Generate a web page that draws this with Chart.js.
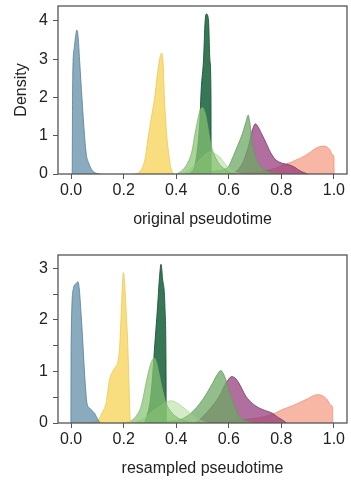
<!DOCTYPE html>
<html>
<head>
<meta charset="utf-8">
<script src="https://cdn.jsdelivr.net/npm/chart.js@4.4.1/dist/chart.umd.min.js"></script>
<style>
  html, body { margin: 0; padding: 0; background: #fff; width: 351px; height: 485px; overflow: hidden; position: relative; }
  .panel { position: absolute; left: 0; width: 351px; height: 240px; }
  #panel-orig { top: -9px; }
  #panel-resampled { top: 240px; }
</style>
</head>
<body>
<div class="panel" id="panel-orig"><canvas id="chart-orig" width="351" height="240"></canvas></div>
<div class="panel" id="panel-resampled"><canvas id="chart-resampled" width="351" height="240"></canvas></div>
<script>
// ── Ticks ──────────────────────────────────────
const X_TICKS           = [0, 0.2, 0.4, 0.6, 0.8, 1.0];
const Y_TICKS_ORIG      = [0, 1, 2, 3, 4];
const Y_TICKS_RESAMPLED = [0, 0.5, 1, 1.5, 2, 2.5, 3];

// ── Series (top of the list is drawn on top) ────
const SERIES = ['blue', 'yellow', 'lightgreen', 'palegreen', 'darkgreen', 'midgreen', 'purple', 'salmon'];
const FILLS = {
  blue:       'rgba(105,148,172,0.78)',
  yellow:     'rgba(247,214,95,0.8)',
  lightgreen: 'rgba(135,195,115,0.72)',
  palegreen:  'rgba(160,210,130,0.45)',
  darkgreen:  'rgba(28,100,62,0.88)',
  midgreen:   'rgba(110,168,100,0.75)',
  purple:     'rgba(145,55,120,0.72)',
  salmon:     'rgba(245,155,130,0.72)',
};
const EDGES = {
  blue:       'rgba(85,125,150,0.8)',
  yellow:     'rgba(235,200,90,0.8)',
  lightgreen: 'rgba(120,175,105,0.7)',
  palegreen:  'rgba(160,205,135,0.6)',
  darkgreen:  'rgba(25,85,55,0.9)',
  midgreen:   'rgba(100,150,95,0.75)',
  purple:     'rgba(115,45,95,0.75)',
  salmon:     'rgba(238,145,120,0.8)',
};

// ── Original pseudotime densities ──────────────
const ORIG_BLUE_X = [0.004, 0.006, 0.012, 0.018, 0.022, 0.027, 0.032, 0.041, 0.051, 0.058, 0.066, 0.075, 0.085, 0.095, 0.11];
const ORIG_BLUE_Y = [0, 2.5, 3.3, 3.65, 3.76, 3.55, 3.0, 2.0, 1.0, 0.5, 0.3, 0.15, 0.06, 0.02, 0];

const ORIG_YELLOW_X = [0.24, 0.26, 0.28, 0.294, 0.306, 0.318, 0.33, 0.34, 0.345, 0.35, 0.355, 0.36, 0.364, 0.372, 0.38, 0.39];
const ORIG_YELLOW_Y = [0, 0.05, 0.35, 1.0, 1.5, 2.0, 2.7, 3.1, 3.16, 2.9, 2.0, 1.4, 1.0, 0.5, 0.15, 0];

const ORIG_DARKGREEN_X = [0.45, 0.47, 0.48, 0.49, 0.495, 0.504, 0.510, 0.515, 0.523, 0.528, 0.532, 0.533];
const ORIG_DARKGREEN_Y = [0, 0.2, 0.6, 1.4, 2.2, 3.0, 4.0, 4.18, 4.0, 3.0, 2.2, 0];

const ORIG_LIGHTGREEN_X = [0.40, 0.42, 0.44, 0.46, 0.47, 0.48, 0.49, 0.50, 0.51, 0.52, 0.526, 0.535, 0.545, 0.56, 0.58, 0.60, 0.62];
const ORIG_LIGHTGREEN_Y = [0, 0.08, 0.25, 0.6, 1.0, 1.35, 1.65, 1.74, 1.6, 1.25, 1.0, 0.7, 0.5, 0.3, 0.15, 0.05, 0];

const ORIG_PALEGREEN_X = [0.42, 0.45, 0.48, 0.51, 0.53, 0.55, 0.565, 0.58, 0.60, 0.62, 0.65];
const ORIG_PALEGREEN_Y = [0, 0.1, 0.3, 0.5, 0.58, 0.52, 0.45, 0.32, 0.15, 0.06, 0];

const ORIG_MIDGREEN_X = [0.44, 0.50, 0.55, 0.58, 0.60, 0.61, 0.627, 0.652, 0.665, 0.674, 0.68, 0.69, 0.70, 0.72, 0.75, 0.80];
const ORIG_MIDGREEN_Y = [0, 0.05, 0.08, 0.12, 0.2, 0.35, 0.63, 1.06, 1.35, 1.54, 1.35, 0.8, 0.5, 0.2, 0.06, 0];

const ORIG_PURPLE_X = [0.60, 0.627, 0.652, 0.671, 0.681, 0.69, 0.701, 0.71, 0.725, 0.743, 0.76, 0.779, 0.80, 0.829, 0.85, 0.867, 0.885, 0.90];
const ORIG_PURPLE_Y = [0, 0.06, 0.28, 0.63, 0.89, 1.15, 1.31, 1.25, 1.05, 0.8, 0.55, 0.37, 0.29, 0.24, 0.18, 0.1, 0.04, 0];

const ORIG_SALMON_X = [0.60, 0.65, 0.70, 0.75, 0.78, 0.817, 0.842, 0.86, 0.88, 0.90, 0.92, 0.94, 0.962, 0.975, 0.985, 0.995, 1.0, 1.001];
const ORIG_SALMON_Y = [0, 0.02, 0.05, 0.1, 0.16, 0.26, 0.32, 0.38, 0.44, 0.52, 0.62, 0.70, 0.73, 0.70, 0.63, 0.5, 0.46, 0];

// ── Resampled pseudotime densities ─────────────
const RES_BLUE_X = [-0.001, 0.0, 0.009, 0.018, 0.026, 0.031, 0.036, 0.044, 0.051, 0.056, 0.06, 0.07, 0.08, 0.089, 0.1, 0.11];
const RES_BLUE_Y = [0, 1.55, 2.62, 2.7, 2.74, 2.6, 2.26, 1.61, 0.97, 0.6, 0.39, 0.29, 0.24, 0.19, 0.08, 0];

const RES_YELLOW_X = [0.03, 0.08, 0.10, 0.108, 0.12, 0.133, 0.146, 0.158, 0.17, 0.177, 0.185, 0.19, 0.199, 0.205, 0.21, 0.215, 0.22, 0.225, 0.23];
const RES_YELLOW_Y = [0, 0.02, 0.05, 0.1, 0.22, 0.39, 0.84, 1.0, 1.1, 1.16, 1.5, 2.06, 2.92, 2.6, 2.1, 1.61, 0.8, 0.06, 0];

const RES_DARKGREEN_X = [0.28, 0.30, 0.31, 0.317, 0.329, 0.336, 0.342, 0.348, 0.357, 0.361, 0.362];
const RES_DARKGREEN_Y = [0, 0.4, 0.9, 1.42, 2.26, 2.8, 3.08, 2.8, 2.26, 1.2, 0];

const RES_LIGHTGREEN_X = [0.20, 0.23, 0.247, 0.266, 0.285, 0.30, 0.31, 0.317, 0.325, 0.335, 0.348, 0.361, 0.38, 0.40, 0.43, 0.46];
const RES_LIGHTGREEN_Y = [0, 0.05, 0.13, 0.32, 0.77, 1.1, 1.23, 1.26, 1.18, 0.95, 0.64, 0.39, 0.22, 0.12, 0.04, 0];

const RES_PALEGREEN_X = [0.24, 0.28, 0.31, 0.34, 0.36, 0.38, 0.40, 0.42, 0.437, 0.455, 0.475, 0.50, 0.52];
const RES_PALEGREEN_Y = [0, 0.1, 0.22, 0.33, 0.4, 0.43, 0.4, 0.33, 0.26, 0.18, 0.1, 0.03, 0];

const RES_MIDGREEN_X = [0.25, 0.35, 0.40, 0.412, 0.456, 0.50, 0.538, 0.555, 0.570, 0.58, 0.589, 0.60, 0.614, 0.64, 0.67, 0.70];
const RES_MIDGREEN_Y = [0, 0.03, 0.05, 0.06, 0.19, 0.45, 0.77, 0.93, 1.02, 0.95, 0.84, 0.65, 0.45, 0.13, 0.04, 0];

const RES_PURPLE_X = [0.47, 0.488, 0.526, 0.564, 0.59, 0.612, 0.625, 0.639, 0.665, 0.69, 0.716, 0.74, 0.766, 0.79, 0.804, 0.82];
const RES_PURPLE_Y = [0, 0.06, 0.26, 0.52, 0.78, 0.90, 0.87, 0.77, 0.52, 0.38, 0.29, 0.24, 0.19, 0.1, 0.06, 0];

const RES_SALMON_X = [0.45, 0.55, 0.65, 0.70, 0.741, 0.78, 0.804, 0.84, 0.867, 0.90, 0.937, 0.96, 0.975, 0.99, 0.995, 0.996];
const RES_SALMON_Y = [0, 0.02, 0.06, 0.09, 0.13, 0.2, 0.26, 0.33, 0.39, 0.47, 0.55, 0.52, 0.45, 0.34, 0.31, 0];

const ORIG = {
  blue: [ORIG_BLUE_X, ORIG_BLUE_Y], yellow: [ORIG_YELLOW_X, ORIG_YELLOW_Y],
  lightgreen: [ORIG_LIGHTGREEN_X, ORIG_LIGHTGREEN_Y], palegreen: [ORIG_PALEGREEN_X, ORIG_PALEGREEN_Y],
  darkgreen: [ORIG_DARKGREEN_X, ORIG_DARKGREEN_Y], midgreen: [ORIG_MIDGREEN_X, ORIG_MIDGREEN_Y],
  purple: [ORIG_PURPLE_X, ORIG_PURPLE_Y], salmon: [ORIG_SALMON_X, ORIG_SALMON_Y],
};
const RES = {
  blue: [RES_BLUE_X, RES_BLUE_Y], yellow: [RES_YELLOW_X, RES_YELLOW_Y],
  lightgreen: [RES_LIGHTGREEN_X, RES_LIGHTGREEN_Y], palegreen: [RES_PALEGREEN_X, RES_PALEGREEN_Y],
  darkgreen: [RES_DARKGREEN_X, RES_DARKGREEN_Y], midgreen: [RES_MIDGREEN_X, RES_MIDGREEN_Y],
  purple: [RES_PURPLE_X, RES_PURPLE_Y], salmon: [RES_SALMON_X, RES_SALMON_Y],
};

const FONT = { family: "'Liberation Sans', Arial, sans-serif", size: 16 };
const TEXT = '#222';
const AXIS = '#555';

// box around the plot area
const framePlugin = {
  id: 'frame',
  afterDatasetsDraw(chart) {
    const { ctx, chartArea: a } = chart;
    ctx.save();
    ctx.strokeStyle = AXIS;
    ctx.lineWidth = 1.3;
    ctx.strokeRect(a.left, a.top, a.right - a.left, a.bottom - a.top);
    ctx.restore();
  },
};

function makeDatasets(src) {
  return SERIES.map(name => {
    const [xs, ys] = src[name];
    return {
      label: name,
      data: xs.map((x, i) => ({ x, y: ys[i] })),
      backgroundColor: FILLS[name],
      borderColor: EDGES[name],
      borderWidth: 1,
      fill: 'origin',
      pointRadius: 0,
      cubicInterpolationMode: 'monotone',
    };
  });
}

function renderPanel(canvasId, src, yMax, yTicks, xTitle, yTitle) {
  const leftPad = yTitle ? 4 : 39;
  return new Chart(document.getElementById(canvasId), {
    type: 'line',
    data: { datasets: makeDatasets(src) },
    options: {
      responsive: false,
      animation: false,
      events: [],
      layout: { padding: { top: 15, left: leftPad, right: 4, bottom: 0 } },
      plugins: { legend: { display: false }, tooltip: { enabled: false } },
      scales: {
        x: {
          type: 'linear', min: -0.05, max: 1.05,
          afterBuildTicks: s => { s.ticks = X_TICKS.map(v => ({ value: v })); },
          afterFit: s => { s.height = 57; },
          ticks: { font: FONT, color: TEXT, padding: 2, maxRotation: 0, callback: v => v.toFixed(1) },
          grid: { drawOnChartArea: false, tickLength: 5, color: AXIS },
          border: { display: false },
          title: { display: true, text: xTitle, font: FONT, color: TEXT, padding: { top: 9.6, bottom: 2 } },
        },
        y: {
          min: 0, max: yMax,
          afterBuildTicks: s => { s.ticks = yTicks.map(v => ({ value: v })); },
          afterFit: s => { s.width = 58 - leftPad; },
          ticks: { font: FONT, color: TEXT, padding: 5, callback: v => Number.isInteger(v) ? String(v) : '' },
          grid: { drawOnChartArea: false, tickLength: 5, color: AXIS },
          border: { display: false },
          title: { display: !!yTitle, text: yTitle || '', font: FONT, color: TEXT, padding: { top: 8, bottom: 8 } },
        },
      },
    },
    plugins: [framePlugin],
  });
}

renderPanel('chart-orig', ORIG, 4.39, Y_TICKS_ORIG, 'original pseudotime', 'Density');
renderPanel('chart-resampled', RES, 3.26, Y_TICKS_RESAMPLED, 'resampled pseudotime', null);
</script>
</body>
</html>
